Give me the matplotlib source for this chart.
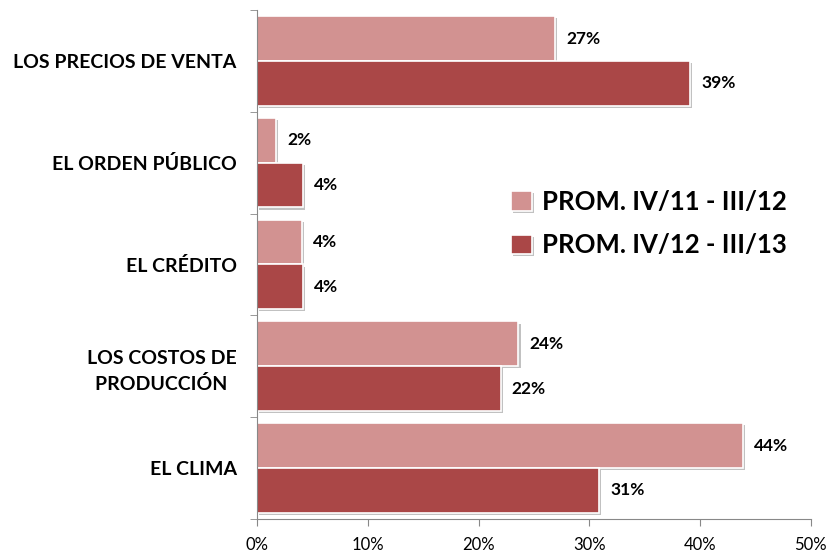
import numpy as np
import matplotlib.pyplot as plt
import matplotlib.patheffects as pe
from matplotlib.ticker import FixedLocator, PercentFormatter

# Data, top to bottom
categories = ['LOS PRECIOS DE VENTA', 'EL ORDEN PÚBLICO', 'EL CRÉDITO',
              'LOS COSTOS DE\nPRODUCCIÓN  ', 'EL CLIMA']
prom_11_12 = [26.9, 1.7, 4.0, 23.6, 43.9]
prom_12_13 = [39.1, 4.1, 4.1, 22.0, 30.9]
series_names = ['PROM. IV/11 - III/12', 'PROM. IV/12 - III/13']

plt.rcParams['font.family'] = ['Lato', 'DejaVu Sans']

fig = plt.figure(figsize=(8.33, 5.58), dpi=100)
ax = fig.add_axes([0.309, 0.07, 0.664, 0.912])

n = len(categories)
y = np.arange(n)[::-1].astype(float)
h = 0.44
shadow = [pe.SimplePatchShadow(offset=(1.5, -1.5), shadow_rgbFace='#999999', alpha=0.6), pe.Normal()]

b1 = ax.barh(y + h / 2, prom_11_12, height=h, color='#D29291', edgecolor='white',
             linewidth=1.2, label=series_names[0], path_effects=shadow)
b2 = ax.barh(y - h / 2, prom_12_13, height=h, color='#AA4747', edgecolor='white',
             linewidth=1.2, label=series_names[1], path_effects=shadow)

for bars in (b1, b2):
    for bar in bars:
        w = bar.get_width()
        ax.text(w + 1.0, bar.get_y() + bar.get_height() / 2, f'{w:.0f}%',
                ha='left', va='center', fontsize=12.5, fontweight='bold')

ax.set_xlim(0, 50)
ax.set_ylim(-0.5, n - 0.5)
ax.xaxis.set_major_locator(FixedLocator(np.arange(0, 51, 10)))
ax.xaxis.set_major_formatter(PercentFormatter(decimals=0))
ax.set_yticks(y)
ax.set_yticklabels(categories, fontsize=14, fontweight='bold', linespacing=1.5)
ax.yaxis.set_minor_locator(FixedLocator(np.arange(-0.5, n, 1.0)))
ax.tick_params(axis='y', which='major', length=0, pad=15)
ax.tick_params(axis='y', which='minor', length=5, color='#888888', direction='out')
ax.tick_params(axis='x', length=5, color='#888888', labelsize=12, pad=8)

for s in ('top', 'right'):
    ax.spines[s].set_visible(False)
for s in ('left', 'bottom'):
    ax.spines[s].set_color('#888888')

leg = ax.legend(loc='center left', bbox_to_anchor=(0.417, 0.58), frameon=False,
                prop={'size': 18.5, 'weight': 'bold'}, handlelength=0.8,
                handleheight=0.8, handletextpad=0.4, labelspacing=0.75)

fig.savefig('out.png', dpi=100)
